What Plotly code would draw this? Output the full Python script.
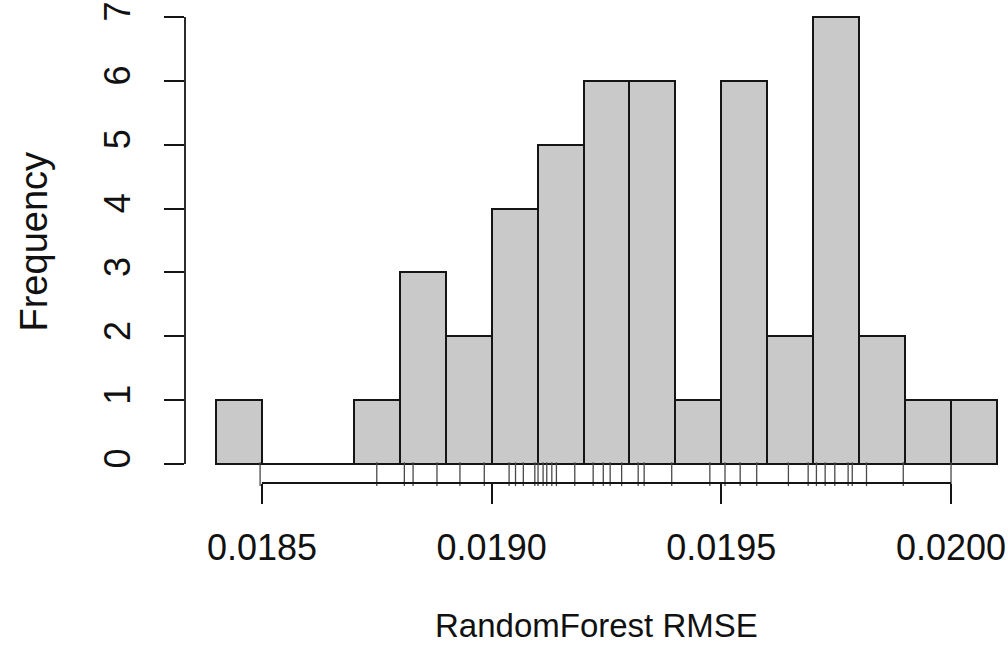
import plotly.graph_objects as go

# ---- data ----
bin_edges = [0.0184, 0.0185, 0.0186, 0.0187, 0.0188, 0.0189, 0.0190, 0.0191, 0.0192,
             0.0193, 0.0194, 0.0195, 0.0196, 0.0197, 0.0198, 0.0199, 0.0200, 0.0201]
counts = [1, 0, 0, 1, 3, 2, 4, 5, 6, 6, 1, 6, 2, 7, 2, 1, 1]
rug_values = [0.018496, 0.01875, 0.01881, 0.018829, 0.018881, 0.018931, 0.018984,
              0.019038, 0.019052, 0.019069, 0.019094, 0.019101, 0.019112, 0.019120,
              0.019131, 0.019141, 0.019181, 0.019221, 0.019243, 0.019258, 0.019283,
              0.019319, 0.019332, 0.019392, 0.019475, 0.019508, 0.019541, 0.019577,
              0.019646, 0.019689, 0.019707, 0.019726, 0.019747, 0.019776, 0.019785,
              0.019816, 0.019896, 0.020000]
x_ticks = [0.0185, 0.0190, 0.0195, 0.0200]
x_tick_labels = ["0.0185", "0.0190", "0.0195", "0.0200"]
y_ticks = [0, 1, 2, 3, 4, 5, 6, 7]
x_title = "RandomForest RMSE"
y_title = "Frequency"

centers = [(a + b) / 2 for a, b in zip(bin_edges[:-1], bin_edges[1:])]
widths = [b - a for a, b in zip(bin_edges[:-1], bin_edges[1:])]

FONT = "Liberation Sans, Arial, Helvetica, sans-serif"
AX = "#151515"

fig = go.Figure()
fig.add_trace(go.Bar(
    x=centers, y=counts, width=widths,
    marker=dict(color="#c9c9c9", line=dict(color=AX, width=2)),
    hoverinfo="x+y", showlegend=False,
))
# baseline under the bars (empty bins drawn as flat line)
fig.add_trace(go.Scatter(
    x=[bin_edges[0], bin_edges[-1]], y=[0, 0], mode="lines",
    line=dict(color=AX, width=2), hoverinfo="skip", showlegend=False,
))
# rug
fig.add_trace(go.Scatter(
    x=rug_values, y=[-0.16] * len(rug_values), mode="markers",
    marker=dict(symbol="line-ns-open", size=17, color="#4a4a4a",
                line=dict(color="#4a4a4a", width=1.3)),
    hoverinfo="x", showlegend=False, cliponaxis=False,
))

# R-style axis lines spanning only tick range
fig.add_shape(type="line", xref="x", yref="paper", x0=x_ticks[0], x1=x_ticks[-1],
              y0=0, y1=0, line=dict(color=AX, width=1.8))
fig.add_shape(type="line", xref="paper", yref="y", x0=0, x1=0,
              y0=y_ticks[0], y1=y_ticks[-1], line=dict(color=AX, width=1.8))

fig.add_annotation(text=x_title, xref="paper", yref="paper", x=0.5, y=0,
                   xanchor="center", yanchor="middle", yshift=-142, showarrow=False,
                   font=dict(family=FONT, size=33, color="#111"))
fig.add_annotation(text=y_title, xref="paper", yref="paper", x=0, y=0.5,
                   xanchor="center", yanchor="middle", xshift=-152, textangle=-90,
                   showarrow=False, font=dict(family=FONT, size=38, color="#111"))

fig.update_layout(
    width=1008, height=658,
    margin=dict(l=185, r=0, t=0, b=175),
    paper_bgcolor="white", plot_bgcolor="white",
    bargap=0,
    xaxis=dict(range=[0.01833252, 0.02012402], showgrid=False, zeroline=False,
               showline=False, tickvals=x_ticks, ticktext=x_tick_labels,
               ticks="outside", ticklen=20, tickwidth=1.8, tickcolor=AX,
               ticklabelstandoff=13,
               tickfont=dict(family=FONT, size=36, color="#111")),
    yaxis=dict(range=[-0.2975, 7.266], showgrid=False, zeroline=False,
               showline=False, tickvals=y_ticks, ticks="outside", ticklen=20,
               tickwidth=1.8, tickcolor=AX, tickangle=-90, ticklabelstandoff=20,
               tickfont=dict(family=FONT, size=36, color="#111")),
    font=dict(family=FONT),
)

fig.write_html("out.html")
